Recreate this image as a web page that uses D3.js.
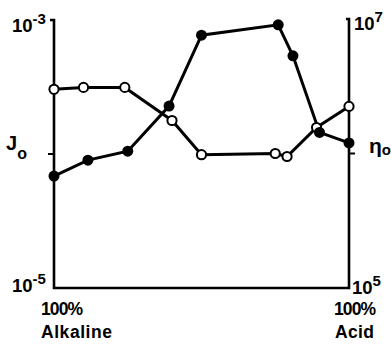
<!DOCTYPE html>
<html><head><meta charset="utf-8">
<script src="https://cdn.jsdelivr.net/npm/d3@7"></script>
<style>body{margin:0;background:#fff}svg{display:block}text{font-family:"Liberation Sans",Arial,sans-serif;font-weight:bold;fill:#000}</style>
</head><body><svg id="c" width="391" height="344"></svg>
<script>
// composition: 0 = 100% alkaline, 100 = 100% acid
const openX = [0, 10, 24, 40, 50, 75, 79, 89, 100];
const etaValues = [3.0e6, 3.1e6, 3.1e6, 1.76e6, 9.8e5, 1.0e6, 9.5e5, 1.56e6, 2.24e6];
const filledX = [0, 11.5, 25, 39, 50, 76, 81, 90, 100];
const jValues = [6.85e-5, 9.0e-5, 1.05e-4, 2.28e-4, 7.7e-4, 9.2e-4, 5.4e-4, 1.45e-4, 1.21e-4];
const leftTicks = ["10", "-3", "10", "-5"];
const rightTicks = ["10", "7", "10", "5"];

const svg = d3.select("#c");
const x = d3.scaleLinear().domain([0, 100]).range([54, 349]);
const yJ = d3.scaleLog().domain([1e-5, 1e-3]).range([288, 20]);
const yE = d3.scaleLog().domain([1e5, 1e7]).range([288, 19]);

// axes
const g = svg.append("g").attr("stroke", "#000").attr("stroke-width", 2.6).attr("fill", "none");
g.append("path").attr("d", `M${x(0)-4},${yJ(1e-3)}H${x(0)}V${yJ(1e-5)}H${x(100)}V${yE(1e7)}h-3`);
g.append("path").attr("d", `M${x(0)},${yJ(1e-4)}h-6`).attr("stroke-width", 2);
g.append("path").attr("d", `M${x(100)},${yE(1e6)}h6`).attr("stroke-width", 2);

const line = svg.append("g").attr("stroke", "#000").attr("stroke-width", 3).attr("fill", "none");
line.append("path").attr("d", d3.line().x((d,i)=>x(openX[i])).y(d=>yE(d))(etaValues));
line.append("path").attr("d", d3.line().x((d,i)=>x(filledX[i])).y(d=>yJ(d))(jValues));

svg.append("g").selectAll("circle").data(etaValues).join("circle")
  .attr("cx", (d,i)=>x(openX[i])).attr("cy", d=>yE(d)).attr("r", 4.6)
  .attr("fill", "#fff").attr("stroke", "#000").attr("stroke-width", 2);
svg.append("g").selectAll("circle").data(jValues).join("circle")
  .attr("cx", (d,i)=>x(filledX[i])).attr("cy", d=>yJ(d)).attr("r", 5.5)
  .attr("fill", "#000");

function sup(xp, yp, base, s) {
  const t = svg.append("text").attr("x", xp).attr("y", yp).attr("font-size", 18.5);
  t.append("tspan").text(base);
  t.append("tspan").attr("dy", -8).attr("font-size", 15).text(s);
}
sup(12, 32, leftTicks[0], leftTicks[1]);
sup(12, 292, leftTicks[2], leftTicks[3]);
sup(354, 30, rightTicks[0], rightTicks[1]);
sup(352, 294, rightTicks[2], rightTicks[3]);

svg.append("text").attr("x", 41).attr("y", 315).attr("font-size", 17.5).attr("textLength", 42).text("100%");
svg.append("text").attr("x", 41).attr("y", 338).attr("font-size", 17.5).attr("textLength", 71).text("Alkaline");
svg.append("text").attr("x", 334).attr("y", 315).attr("font-size", 17.5).attr("textLength", 42).text("100%");
svg.append("text").attr("x", 335).attr("y", 338).attr("font-size", 17.5).attr("textLength", 39).text("Acid");

const jl = svg.append("text").attr("x", 6).attr("y", 150).attr("font-size", 20).attr("font-weight", "normal");
jl.append("tspan").text("J");
jl.append("tspan").attr("dy", 9).attr("font-size", 16).text("o");
const el = svg.append("text").attr("x", 369).attr("y", 153).attr("font-size", 21).attr("font-weight", "normal");
el.append("tspan").text("η");
el.append("tspan").attr("dy", 2).attr("font-size", 15).text("o");
</script></body></html>
